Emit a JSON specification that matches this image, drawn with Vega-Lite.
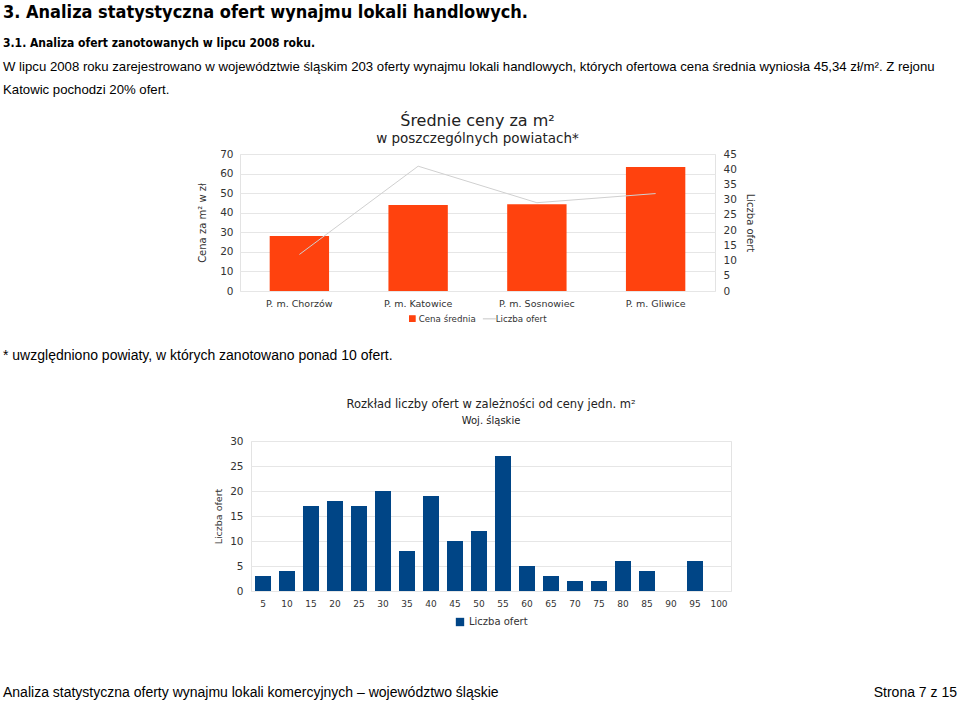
{
  "$schema": "https://vega.github.io/schema/vega-lite/v6.json",
  "padding": {"left": 3, "right": 3, "top": 3, "bottom": 0},
  "background": "white",
  "title": {
    "text": "3. Analiza statystyczna ofert wynajmu lokali handlowych.",
    "subtitle": "3.1. Analiza ofert zanotowanych w lipcu 2008 roku.",
    "anchor": "start",
    "font": "Liberation Sans Narrow, DejaVu Sans Condensed, Liberation Sans",
    "fontSize": 18,
    "fontWeight": "bold",
    "color": "#000000",
    "subtitleFont": "Liberation Sans Narrow, DejaVu Sans Condensed, Liberation Sans",
    "subtitleFontSize": 12,
    "subtitleFontWeight": "bold",
    "subtitleColor": "#000000",
    "subtitlePadding": 16,
    "offset": 11
  },
  "config": {
    "view": {"stroke": null},
    "font": "DejaVu Sans",
    "legend": {"layout": {"bottom": {"anchor": "middle"}}}
  },
  "resolve": {
    "scale": {"x": "independent", "y": "independent", "color": "independent"},
    "legend": {"color": "independent"}
  },
  "spacing": 14,
  "vconcat": [
    {
      "width": 954,
      "height": 1,
      "data": {"values": []},
      "mark": "text",
      "encoding": {},
      "title": {
        "text": [
          "W lipcu 2008 roku zarejestrowano w województwie śląskim 203 oferty wynajmu lokali handlowych, których ofertowa cena średnia wyniosła 45,34 zł/m². Z rejonu",
          "Katowic pochodzi 20% ofert."
        ],
        "anchor": "start",
        "font": "Liberation Sans",
        "fontSize": 13.2,
        "fontWeight": "normal",
        "lineHeight": 23,
        "color": "#000000",
        "offset": 0
      }
    },
    {
      "spacing": 0,
      "resolve": {"scale": {"x": "independent", "y": "independent", "color": "independent"}},
      "hconcat": [
        {
          "width": 194,
          "height": 1,
          "data": {"values": []},
          "mark": "text",
          "encoding": {}
        },
        {
          "width": 475,
          "height": 137,
          "view": {"stroke": "#e3e3e3"},
          "title": {
            "text": "Średnie ceny za m²",
            "subtitle": "w poszczególnych powiatach*",
            "anchor": "middle",
            "font": "DejaVu Sans",
            "fontSize": 16,
            "fontWeight": "normal",
            "color": "#222222",
            "subtitleFont": "DejaVu Sans",
            "subtitleFontSize": 13.5,
            "subtitleColor": "#222222",
            "subtitlePadding": 3,
            "offset": 4
          },
          "data": {
            "values": [
              {"powiat": "P. m. Chorzów", "cena": 28.1, "oferty": 12},
              {"powiat": "P. m. Katowice", "cena": 44.0, "oferty": 41},
              {"powiat": "P. m. Sosnowiec", "cena": 44.3, "oferty": 29},
              {"powiat": "P. m. Gliwice", "cena": 63.4, "oferty": 32}
            ]
          },
          "encoding": {
            "x": {
              "field": "powiat",
              "type": "nominal",
              "sort": null,
              "scale": {"paddingInner": 0.5, "paddingOuter": 0.25},
              "axis": {
                "title": null,
                "labelAngle": 0,
                "domain": false,
                "ticks": false,
                "labelPadding": 7,
                "labelFontSize": 9.5,
                "labelColor": "#333333"
              }
            }
          },
          "layer": [
            {
              "mark": {"type": "bar"},
              "encoding": {
                "y": {
                  "field": "cena",
                  "type": "quantitative",
                  "scale": {"domain": [0, 70]},
                  "axis": {
                    "title": "Cena za m² w zł",
                    "values": [0, 10, 20, 30, 40, 50, 60, 70],
                    "grid": true,
                    "gridColor": "#e6e6e6",
                    "domain": false,
                    "ticks": false,
                    "labelPadding": 7,
                    "labelFontSize": 10.5,
                    "labelColor": "#333333",
                    "titleFontSize": 10,
                    "titleFontWeight": "normal",
                    "titleColor": "#333333",
                    "titlePadding": 12
                  }
                },
                "color": {
                  "datum": "Cena średnia",
                  "type": "nominal",
                  "scale": {"domain": ["Cena średnia", "Liczba ofert"], "range": ["#ff420e", "#d0d0d0"]},
                  "legend": {
                    "orient": "bottom",
                    "title": null,
                    "direction": "horizontal",
                    "labelFontSize": 8.7,
                    "labelColor": "#333333",
                    "symbolSize": 169,
                    "columnPadding": 4,
                    "labelOffset": 2,
                    "padding": 10,
                    "offset": -4,
                    "encode": {
                      "symbols": {
                        "update": {
                          "shape": {"signal": "datum.value === 'Liczba ofert' ? 'stroke' : 'square'"},
                          "size": {"signal": "datum.value === 'Liczba ofert' ? 169 : 30"},
                          "fill": {"signal": "datum.value === 'Liczba ofert' ? 'transparent' : '#ff420e'"},
                          "stroke": {"signal": "datum.value === 'Liczba ofert' ? '#d0d0d0' : '#ff420e'"},
                          "strokeWidth": {"value": 1.2},
                          "opacity": {"value": 1}
                        }
                      }
                    }
                  }
                }
              }
            },
            {
              "mark": {"type": "line", "strokeWidth": 1},
              "encoding": {
                "y": {
                  "field": "oferty",
                  "type": "quantitative",
                  "scale": {"domain": [0, 45]},
                  "axis": {
                    "orient": "right",
                    "title": "Liczba ofert",
                    "values": [0, 5, 10, 15, 20, 25, 30, 35, 40, 45],
                    "grid": false,
                    "domain": false,
                    "ticks": false,
                    "labelPadding": 8,
                    "labelFontSize": 10.5,
                    "labelColor": "#333333",
                    "titleFontSize": 10,
                    "titleFontWeight": "normal",
                    "titleColor": "#333333",
                    "titlePadding": 8
                  }
                },
                "color": {"datum": "Liczba ofert", "type": "nominal"}
              }
            }
          ],
          "resolve": {"scale": {"y": "independent"}}
        }
      ]
    },
    {
      "width": 954,
      "height": 21,
      "data": {"values": []},
      "mark": "text",
      "encoding": {},
      "title": {
        "text": "* uwzględniono powiaty, w których zanotowano ponad 10 ofert.",
        "anchor": "start",
        "font": "Liberation Sans",
        "fontSize": 14,
        "fontWeight": "normal",
        "color": "#000000",
        "offset": 0
      }
    },
    {
      "spacing": 0,
      "resolve": {"scale": {"x": "independent", "y": "independent", "color": "independent"}},
      "hconcat": [
        {
          "width": 210,
          "height": 1,
          "data": {"values": []},
          "mark": "text",
          "encoding": {}
        },
        {
          "width": 480,
          "height": 150,
          "view": {"stroke": "#e3e3e3"},
          "title": {
            "text": "Rozkład liczby ofert  w zależności od ceny jedn. m²",
            "subtitle": "Woj. śląskie",
            "anchor": "middle",
            "font": "DejaVu Sans",
            "fontSize": 11.5,
            "fontWeight": "normal",
            "color": "#222222",
            "subtitleFont": "DejaVu Sans",
            "subtitleFontSize": 10,
            "subtitleColor": "#222222",
            "subtitlePadding": 6,
            "offset": 10
          },
          "data": {
            "values": [
              {"cena": 5, "liczba": 3},
              {"cena": 10, "liczba": 4},
              {"cena": 15, "liczba": 17},
              {"cena": 20, "liczba": 18},
              {"cena": 25, "liczba": 17},
              {"cena": 30, "liczba": 20},
              {"cena": 35, "liczba": 8},
              {"cena": 40, "liczba": 19},
              {"cena": 45, "liczba": 10},
              {"cena": 50, "liczba": 12},
              {"cena": 55, "liczba": 27},
              {"cena": 60, "liczba": 5},
              {"cena": 65, "liczba": 3},
              {"cena": 70, "liczba": 2},
              {"cena": 75, "liczba": 2},
              {"cena": 80, "liczba": 6},
              {"cena": 85, "liczba": 4},
              {"cena": 90, "liczba": 0},
              {"cena": 95, "liczba": 6},
              {"cena": 100, "liczba": 0}
            ]
          },
          "mark": {"type": "bar"},
          "encoding": {
            "x": {
              "field": "cena",
              "type": "ordinal",
              "scale": {"paddingInner": 0.333, "paddingOuter": 0.1667},
              "axis": {
                "title": null,
                "labelAngle": 0,
                "domain": false,
                "ticks": false,
                "labelPadding": 8,
                "labelFontSize": 9,
                "labelColor": "#333333"
              }
            },
            "y": {
              "field": "liczba",
              "type": "quantitative",
              "scale": {"domain": [0, 30]},
              "axis": {
                "title": "Liczba ofert",
                "values": [0, 5, 10, 15, 20, 25, 30],
                "grid": true,
                "gridColor": "#e6e6e6",
                "domain": false,
                "ticks": false,
                "labelPadding": 8,
                "labelFontSize": 10.5,
                "labelColor": "#333333",
                "titleFontSize": 9.5,
                "titleFontWeight": "normal",
                "titleColor": "#333333",
                "titlePadding": 6
              }
            },
            "color": {
              "datum": "Liczba ofert",
              "type": "nominal",
              "scale": {"domain": ["Liczba ofert"], "range": ["#004586"]},
              "legend": {
                "orient": "bottom",
                "title": null,
                "labelFontSize": 10,
                "labelColor": "#333333",
                "symbolType": "square",
                "symbolSize": 70,
                "offset": 9
              }
            }
          }
        }
      ]
    },
    {
      "spacing": 20,
      "hconcat": [
        {
          "width": 700,
          "height": 44,
          "data": {"values": []},
          "mark": "text",
          "encoding": {},
          "title": {
            "text": "Analiza statystyczna oferty wynajmu lokali komercyjnych – województwo śląskie",
            "orient": "bottom",
            "anchor": "start",
            "font": "Liberation Sans",
            "fontSize": 14,
            "fontWeight": "normal",
            "color": "#000000",
            "offset": 0
          }
        },
        {
          "width": 234,
          "height": 44,
          "data": {"values": []},
          "mark": "text",
          "encoding": {},
          "title": {
            "text": "Strona 7 z 15",
            "orient": "bottom",
            "anchor": "end",
            "font": "Liberation Sans",
            "fontSize": 14,
            "fontWeight": "normal",
            "color": "#000000",
            "offset": 0
          }
        }
      ]
    }
  ]
}
